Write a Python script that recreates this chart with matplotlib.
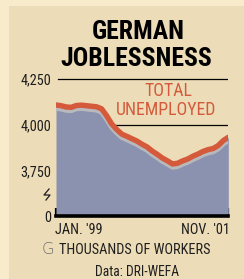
import matplotlib.pyplot as plt
from matplotlib.patches import Rectangle
from matplotlib.lines import Line2D
import matplotlib.patheffects as pe

# monthly unemployment, thousands, Jan 1999 - Nov 2001
months = list(range(35))
unemployed = [4109, 4105, 4098, 4096, 4106, 4108, 4105, 4102, 4099, 4088,
              4050, 4005, 3975, 3950, 3938, 3925, 3912, 3895, 3880, 3858,
              3840, 3820, 3805, 3788, 3792, 3805, 3815, 3830, 3842, 3856,
              3866, 3872, 3888, 3915, 3933]
ytick_vals = [3505, 3750, 4000, 4250]
ytick_labels = ["0", "3,750", "4,000", "4,250"]
year_starts = [0, 12, 24, 34]

W, H = 244, 279
fig = plt.figure(figsize=(W / 100, H / 100), dpi=100)
fig.patch.set_facecolor("#f7ebcc")
fig.add_artist(Rectangle((9 / W, 0), 1, 1 - 6 / H, transform=fig.transFigure,
                         facecolor="#ecdcb7", edgecolor="none", zorder=0))

cond = ["Roboto Condensed", "DejaVu Sans"]
ink = "#1e1e1e"

def px(x, y):
    return x / W, 1 - y / H

ax = fig.add_axes([56 / W, 1 - 216 / H, (228.3 - 56) / W, (216 - 77.2) / H])
ax.set_facecolor("none")
ax.set_xlim(0, 34)
ax.set_ylim(3505, 4260)

for g in [4000, 4250]:
    ax.plot([0.3, 34], [g, g], color="black", lw=0.9, zorder=1)

ax.fill_between(months, 3505, unemployed, color="#8a92af", lw=0, zorder=2)
ax.plot(months, unemployed, color="#d45a3b", lw=3.9, solid_capstyle="round", zorder=3,
        path_effects=[pe.SimpleLineShadow(offset=(0, -2.2), shadow_color="#b9b9bd", alpha=1),
                      pe.Normal()])

for s in ["top", "right", "left"]:
    ax.spines[s].set_visible(False)
ax.spines["bottom"].set_linewidth(2.6)
ax.spines["bottom"].set_zorder(5)

ax.set_xticks(year_starts)
ax.set_xticks(months, minor=True)
ax.tick_params(axis="x", which="major", direction="in", length=6, width=1.6, labelbottom=False)
ax.tick_params(axis="x", which="minor", direction="in", length=4.2, width=1.2)
ax.set_yticks(ytick_vals)
ax.set_yticklabels(ytick_labels, family=cond, fontstretch="condensed", fontsize=10.3, color=ink)
ax.tick_params(axis="y", length=0, pad=3.5)

ax.text(-0.005, -0.1, "JAN. '99", transform=ax.transAxes, family=cond, fontstretch="condensed",
        fontsize=10.3, color=ink, ha="left", va="center")
ax.text(1.01, -0.1, "NOV. '01", transform=ax.transAxes, family=cond, fontstretch="condensed",
        fontsize=10.3, color=ink, ha="right", va="center")

x, y = px(168, 91.5)
fig.text(x, y, "TOTAL", family=cond, fontstretch="condensed", fontsize=12.8,
         color="#d45a3b", ha="center", va="center")
x, y = px(166, 110)
fig.text(x, y, "UNEMPLOYED", family=cond, fontstretch="condensed", fontsize=12.8,
         color="#d45a3b", ha="center", va="center")

x, y = px(138, 32)
fig.text(x, y, "GERMAN", family=cond, fontstretch="condensed", fontweight="bold",
         fontsize=18.5, ha="center", va="center", color="black")
x, y = px(136, 59)
fig.text(x, y, "JOBLESSNESS", family=cond, fontstretch="condensed", fontweight="bold",
         fontsize=18.5, ha="center", va="center", color="black")

x, y = px(42, 250)
fig.text(x, y, "G", family=["DejaVu Sans"], fontweight="light", fontsize=11.5, color="#6e6e6e",
         ha="left", va="center")
x, y = px(59, 250)
fig.text(x, y, "THOUSANDS OF WORKERS", family=cond, fontstretch="condensed", fontsize=10.3,
         color=ink, ha="left", va="center")
x, y = px(137, 272)
fig.text(x, y, "Data: DRI-WEFA", family=cond, fontstretch="condensed", fontsize=9.8,
         color=ink, ha="center", va="center")

# axis break mark
zx = [49 / W, 44 / W, 50 / W, 46 / W]
zy = [1 - 189 / H, 1 - 195 / H, 1 - 195 / H, 1 - 200 / H]
fig.add_artist(Line2D(zx, zy, transform=fig.transFigure, color=ink, lw=0.9))

fig.savefig("out.png", dpi=100, facecolor=fig.get_facecolor())
